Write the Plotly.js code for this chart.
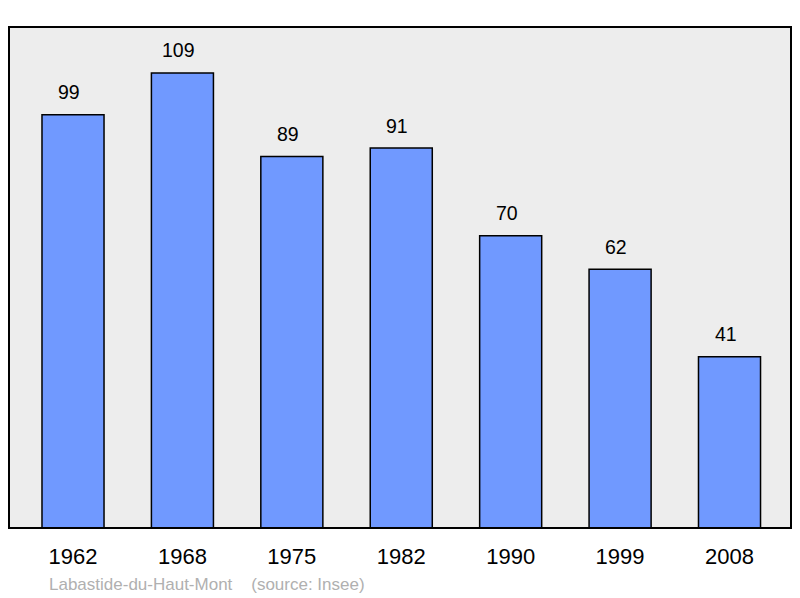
<!DOCTYPE html>
<html>
<head>
<meta charset="utf-8">
<script src="https://cdn.plot.ly/plotly-3.0.1.min.js"></script>
<style>html,body{margin:0;padding:0;background:#fff;}#chart{width:800px;height:598px;}</style>
</head>
<body>
<div id="chart"></div>
<script>
var years = ["1962", "1968", "1975", "1982", "1990", "1999", "2008"];
var population = [99, 109, 89, 91, 70, 62, 41];
var positions = years.map(function (y, i) { return i; });

var trace = {
  type: 'bar',
  x: positions,
  y: population,
  width: 0.567,
  marker: { color: '#7099ff', line: { color: '#000', width: 1.5 } },
  hoverinfo: 'none'
};

var annotations = population.map(function (v, i) {
  return {
    x: positions[i], y: v, xref: 'x', yref: 'y',
    text: String(v), showarrow: false,
    yanchor: 'middle', yshift: 22.5, xshift: -4,
    font: { family: 'Liberation Sans, Arial, sans-serif', size: 19.5, color: '#000' }
  };
});
annotations.push({
  xref: 'paper', yref: 'paper', x: 0.048, y: -0.112, xanchor: 'left', yanchor: 'middle',
  text: 'Labastide-du-Haut-Mont &nbsp;&nbsp;&nbsp;(source: Insee)', showarrow: false,
  font: { family: 'Liberation Sans, Arial, sans-serif', size: 17, color: '#b0b0b0' }
});

var layout = {
  width: 800, height: 598,
  margin: { l: 9, r: 9, t: 27, b: 70 },
  paper_bgcolor: '#fff',
  plot_bgcolor: '#ededed',
  showlegend: false,
  xaxis: {
    range: [-0.585, 6.562],
    tickvals: positions,
    ticktext: years,
    showgrid: false, zeroline: false, ticks: '',
    tickfont: { family: 'Liberation Sans, Arial, sans-serif', size: 22, color: '#000' },
    ticklabelstandoff: 13
  },
  yaxis: {
    range: [0, 120],
    showgrid: false, zeroline: false, showticklabels: false, ticks: ''
  },
  shapes: [{
    type: 'rect', xref: 'paper', yref: 'paper', x0: 0, x1: 1, y0: 0, y1: 1,
    line: { color: '#000', width: 2 }
  }],
  annotations: annotations
};

Plotly.newPlot('chart', [trace], layout, { staticPlot: true });
</script>
</body>
</html>
